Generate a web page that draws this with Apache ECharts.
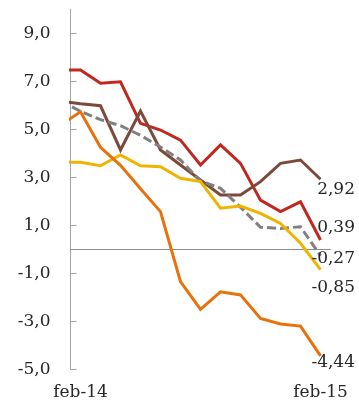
<!DOCTYPE html>
<html>
<head>
<meta charset="utf-8">
<script src="https://cdn.jsdelivr.net/npm/echarts/dist/echarts.min.js"></script>
<style>html,body{margin:0;padding:0;background:#fff}#c{width:359px;height:402px}</style>
</head>
<body>
<div id="c"></div>
<script>
// months: first entry (ene-14) lies just left of the plot and is clipped
const months = ["ene-14","feb-14","mar-14","abr-14","may-14","jun-14","jul-14","ago-14","sep-14","oct-14","nov-14","dic-14","ene-15","feb-15"];
const redSeries    = [7.47, 7.47, 6.92, 6.98, 5.25, 4.97, 4.55, 3.51, 4.35, 3.58, 2.05, 1.57, 1.98, 0.39];
const brownSeries  = [6.17, 6.06, 5.98, 4.14, 5.76, 4.14, 3.51, 2.89, 2.26, 2.26, 2.82, 3.58, 3.72, 2.92];
const graySeries   = [6.19, 5.75, 5.40, 5.15, 4.75, 4.26, 3.72, 2.85, 2.54, 1.75, 0.92, 0.87, 0.94, -0.27];
const yellowSeries = [3.63, 3.63, 3.48, 3.93, 3.48, 3.44, 2.96, 2.82, 1.71, 1.80, 1.50, 1.08, 0.25, -0.85];
const orangeSeries = [5.17, 5.73, 4.25, 3.50, 2.52, 1.57, -1.35, -2.50, -1.77, -1.90, -2.88, -3.11, -3.20, -4.44];
const yTicks = [-5, -3, -1, 1, 3, 5, 7, 9];
const xTicks = [0, 12];

const FONT = 'DejaVu Serif';
const fmt = (v, d) => v.toFixed(d).replace('.', ',');
const toXY = arr => arr.map((v, i) => [i - 1, v]);

function mk(name, arr, color, dy, dashed) {
  return {
    name, type: 'line', data: toXY(arr), showSymbol: false, symbol: 'none', clip: true,
    lineStyle: { color, width: 3, type: dashed ? [9, 4] : 'solid', cap: 'butt', join: 'miter' },
    itemStyle: { color },
    endLabel: {
      show: true, distance: 0, align: 'right', verticalAlign: 'middle', offset: [34.5, dy],
      formatter: p => fmt(p.value[1], 2), color: '#262626', fontFamily: FONT, fontSize: 17
    },
    z: 3
  };
}

const chart = echarts.init(document.getElementById('c'), null, { renderer: 'canvas' });
chart.setOption({
  animation: false,
  backgroundColor: '#fff',
  grid: { left: 70.5, right: 28.5, top: 9.3, bottom: 32.7 },
  xAxis: {
    type: 'value', min: -0.5, max: 12.5,
    axisLine: { show: false }, axisTick: { show: false }, splitLine: { show: false },
    axisLabel: {
      customValues: xTicks, formatter: v => months[v + 1], margin: 15,
      color: '#262626', fontFamily: FONT, fontSize: 17
    }
  },
  yAxis: {
    type: 'value', min: -5, max: 10,
    axisLine: { show: true, onZero: false, lineStyle: { color: '#a6a6a6', width: 1 } },
    axisTick: { show: true, inside: true, length: 6, customValues: yTicks, lineStyle: { color: '#a6a6a6' } },
    splitLine: { show: false },
    axisLabel: {
      customValues: yTicks, formatter: v => fmt(v, 1), margin: 20,
      color: '#262626', fontFamily: FONT, fontSize: 17
    }
  },
  series: [
    {
      type: 'line', data: [], z: 1,
      markLine: {
        silent: true, symbol: 'none', z: 1, label: { show: false },
        lineStyle: { color: '#8c8c8c', width: 1, type: 'solid' },
        data: [{ yAxis: 0 }]
      }
    },
    mk('Rojo', redSeries, '#c0281f', -12.5),
    mk('Marrón', brownSeries, '#7b4a3a', 10),
    mk('Gris', graySeries, '#808080', 2.5, true),
    mk('Amarillo', yellowSeries, '#f0b400', 18),
    mk('Naranja', orangeSeries, '#e8710a', 6.5)
  ]
});
</script>
</body>
</html>
